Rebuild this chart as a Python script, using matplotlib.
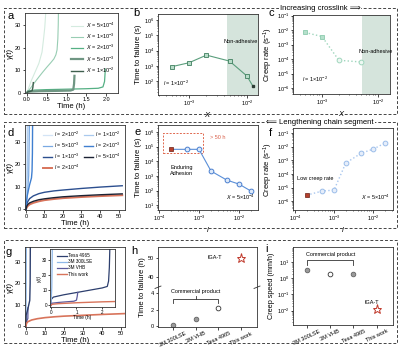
import numpy as np
import matplotlib
matplotlib.use("Agg")
import matplotlib.pyplot as plt
from matplotlib.patches import Rectangle

plt.rcParams['font.family'] = ['Liberation Sans', 'DejaVu Sans']
plt.rcParams['mathtext.fontset'] = 'custom'
plt.rcParams['mathtext.rm'] = 'Liberation Sans'
plt.rcParams['mathtext.it'] = 'Liberation Sans:italic'
plt.rcParams['mathtext.bf'] = 'Liberation Sans:bold'

# ---------------- data ----------------
# a: strain vs time for different crosslink X
a_t_5e4 = [0, 0.05, 0.1, 0.2, 0.3, 0.38, 0.42, 0.45, 0.465, 0.475]
a_g_5e4 = [0, 2.5, 5, 9, 13, 18, 24, 29, 33, 36]
a_t_1e3 = [0, 0.05, 0.1, 0.2, 0.3, 0.4, 0.5, 0.6, 0.68, 0.73, 0.76, 0.78, 0.79, 0.795]
a_g_1e3 = [0, 1.2, 2.3, 4.7, 7, 9.2, 11.3, 13.3, 15, 16.8, 19, 24, 30, 36]
a_t_2e3 = [0, 0.02, 0.2, 0.5, 1.0, 1.5, 1.8, 1.92, 1.96, 1.98]
a_g_2e3 = [0, 0.8, 1.2, 1.4, 1.6, 1.8, 2.0, 2.6, 5, 10.5]
a_t_5e3 = [0, 0.02, 0.3, 0.6, 0.9, 1.1, 1.17, 1.19, 1.2]
a_g_5e3 = [0, 0.5, 0.7, 0.8, 0.9, 1.0, 1.4, 4, 7.5]
a_t_1e2 = [0, 0.02, 0.08, 0.13, 0.15, 0.16]
a_g_1e2 = [0, 0.4, 0.6, 0.9, 2.5, 4.5]
a_labels = [r"$X$ = 5×10$^{-4}$", r"$X$ = 1×10$^{-3}$", r"$X$ = 2×10$^{-3}$",
            r"$X$ = 5×10$^{-3}$", r"$X$ = 1×10$^{-2}$"]

# b, c: vs crosslink X
b_X = [5e-4, 1e-3, 2e-3, 5e-3, 1e-2]
b_ttf = [10**2.95, 10**3.21, 10**3.71, 10**3.32, 10**2.34]
b_X_extra = [1.26e-2]
b_ttf_extra = [10**1.69]
c_X = [5e-4, 1e-3, 2e-3, 5e-3]
c_rate = [10**-2.16, 10**-2.44, 10**-4.08, 10**-4.2]

# d: strain vs time for chain segment l
d_t_2e2 = [0, 0.2, 0.4, 0.5, 0.6]
d_g_2e2 = [0, 6, 14, 22, 38]
d_t_1e2 = [0, 0.3, 0.6, 0.9, 1.1]
d_g_1e2 = [0, 5, 11, 20, 38]
d_t_5e3 = [0, 0.4, 0.8, 1.5, 1.9]
d_g_5e3 = [0, 4, 7, 15, 38]
d_t_2e3 = [0, 0.3, 0.7, 1.2, 2.0, 3.0, 3.3, 3.5, 3.6]
d_g_2e3 = [0, 3.5, 6, 8, 11, 14, 17, 25, 38]
d_t_1e3 = [0, 0.5, 1, 2, 4, 7, 10, 15, 20, 30, 40, 52]
d_g_1e3 = [0, 2.5, 3.5, 4.8, 6, 7, 7.6, 8.2, 8.6, 9.3, 9.9, 10.5]
d_t_5e4 = [0, 0.5, 1, 2, 4, 7, 10, 15, 20, 30, 40, 52]
d_g_5e4 = [0, 1.5, 2.2, 2.9, 3.6, 4.3, 4.7, 5.2, 5.6, 6.1, 6.5, 6.9]
d_t_2e4 = [0, 0.5, 1, 2, 4, 7, 10, 15, 20, 30, 40, 52]
d_g_2e4 = [0, 1.0, 1.5, 2.2, 2.9, 3.6, 4.1, 4.6, 5.0, 5.5, 5.9, 6.3]

# e, f: vs chain segment l
ef_l = [5e-4, 1e-3, 2e-3, 5e-3, 1e-2, 2e-2]
e_ttf = [10**4.82, 10**4.82, 10**3.33, 10**2.71, 10**2.44, 10**1.96]
f_rate = [10**-5.26, 10**-5.19, 10**-3.2, 10**-2.47, 10**-2.18, 10**-1.74]
ref_l = [2e-4]
e_ref_ttf = [10**4.82]
f_ref_rate = [10**-5.56]

# g: comparison with commercial tapes
g_t_lse = [0, 0.05, 0.1, 0.2]
g_g_lse = [0, 5, 15, 38]
g_t_tesa = [0, 0.1, 1.0, 2.0, 2.2, 2.3]
g_g_tesa = [0, 5, 8, 12, 20, 38]
g_t_vhb = [0, 0.05, 0.5, 1.0, 1.05]
g_g_vhb = [0, 1.5, 2.5, 3.5, 8.5]
g_t_this = [0, 0.3, 1, 3, 6, 10, 15, 20, 30, 40, 52]
g_g_this = [0, 1.2, 2.0, 2.8, 3.4, 3.9, 4.3, 4.6, 5.0, 5.4, 5.8]
gi_t_lse = [0, 0.02, 0.04, 0.06]
gi_g_lse = [0, 4, 12, 38]
gi_t_tesa = [0, 0.02, 0.1, 0.5, 1.0, 1.5, 2.0, 2.2, 2.25, 2.28, 2.3]
gi_g_tesa = [0, 4, 5.5, 7, 8.5, 10, 11.5, 12.5, 16, 25, 38]
gi_t_vhb = [0, 0.05, 0.3, 0.6, 0.9, 1.0, 1.03, 1.05]
gi_g_vhb = [0, 1.5, 2, 2.4, 2.8, 3.5, 6, 8.5]
gi_t_this = [0, 0.05, 0.3, 1, 1.5, 2, 2.5]
gi_g_this = [0, 0.8, 1.2, 1.8, 2.1, 2.4, 2.6]

# h, i
products = ["3M 300LSE", "3M VHB", "Tesa 4965", "This work"]
h_ttf = [0.15, 0.9, 2.25, 50]
i_speed = [3.1, 1.8, 2.0, 0.013]

# ---------------- helpers ----------------
TICK = 4
LAB = 5.5


def style(ax):
    ax.tick_params(labelsize=TICK, length=1.8, width=0.5, pad=1, direction='out')
    ax.tick_params(which='minor', length=1.0, width=0.4)
    for s in ax.spines.values():
        s.set_linewidth(0.6)
        s.set_color('#333333')


fig = plt.figure(figsize=(4, 3.49), dpi=100)

# dashed group boxes
for (bx, by, bw, bh) in [(0.01, 0.6734, 0.9825, 0.3037),
                         (0.01, 0.3467, 0.9825, 0.3037),
                         (0.01, 0.0172, 0.9825, 0.295)]:
    fig.add_artist(Rectangle((bx, by), bw, bh, transform=fig.transFigure, fill=False,
                             ls=(0, (3, 2)), lw=0.7, color='#444444'))
fig.text(0.80, 0.977, "Increasing crosslink ⟹", fontsize=5.5, ha='center', va='center',
         bbox=dict(fc='white', ec='none', pad=0.5))
fig.text(0.80, 0.650, "⟸ Lengthening chain segment", fontsize=5.5, ha='center', va='center',
         bbox=dict(fc='white', ec='none', pad=0.5))

# panel letters
for lt, px, py in [("a", 0.02, 0.954), ("b", 0.333, 0.962), ("c", 0.672, 0.962),
                   ("d", 0.0175, 0.619), ("e", 0.336, 0.622), ("f", 0.672, 0.62),
                   ("g", 0.0125, 0.278), ("h", 0.328, 0.282), ("i", 0.664, 0.286)]:
    fig.text(px, py, lt, fontsize=8, ha='left', va='center')

# ---------------- a ----------------
ax = fig.add_axes([0.0625, 0.7335, 0.2325, 0.229])
style(ax)
a_cols = ["#d4ebdf", "#98cdb3", "#55b084", "#6f9683", "#3f5f4e"]
a_lws = [0.8, 0.8, 0.9, 1.6, 1.0]
for t, g, c, lw, lab in zip([a_t_5e4, a_t_1e3, a_t_2e3, a_t_5e3, a_t_1e2],
                            [a_g_5e4, a_g_1e3, a_g_2e3, a_g_5e3, a_g_1e2],
                            a_cols, a_lws, a_labels):
    ax.plot(t, g, color=c, lw=lw, label=lab)
ax.set_xlim(-0.05, 2.3)
ax.set_ylim(-0.1, 35.3)
ax.set_xticks([0, 0.5, 1.0, 1.5, 2.0])
ax.set_xticklabels(["0.0", "0.5", "1.0", "1.5", "2.0"])
ax.set_yticks([0, 10, 20, 30])
ax.set_xlabel("Time (h)", fontsize=LAB, labelpad=1)
ax.set_ylabel("γ(t)", fontsize=LAB, style='italic', labelpad=1)
ax.legend(fontsize=4, frameon=False, loc='upper right', bbox_to_anchor=(1.02, 0.97),
          handlelength=2.2, labelspacing=0.35, handletextpad=0.5)

# ---------------- b ----------------
ax = fig.add_axes([0.395, 0.7278, 0.25, 0.232])
style(ax)
ax.set_xscale('log')
ax.set_yscale('log')
ax.axvspan(4.6e-3, 1e-1, color='#d5e4dc', lw=0)
ax.plot(b_X + b_X_extra, b_ttf + b_ttf_extra, color='#5a9e7c', lw=0.8, zorder=2)
ax.plot(b_X, b_ttf, 's', ms=3.2, mfc='#b7dcc8', mec='#3f7f5f', mew=0.6, zorder=3)
ax.plot(b_X_extra, b_ttf_extra, 's', ms=1.6, color='#2d3d35', zorder=3)
ax.set_xlim(10**-3.534, 10**-1.81)
ax.set_ylim(10**1.1, 10**6.4)
ax.set_xlabel("$X$", fontsize=LAB, labelpad=1)
ax.set_ylabel("Time to failure (s)", fontsize=LAB, labelpad=1)
ax.text(0.83, 0.64, "Non-adhesive", transform=ax.transAxes, fontsize=4, ha='center')
ax.text(0.05, 0.11, r"$l$ = 1×10$^{-2}$", transform=ax.transAxes, fontsize=4, ha='left')

# ---------------- c ----------------
ax = fig.add_axes([0.7325, 0.7307, 0.2425, 0.2264])
style(ax)
ax.set_xscale('log')
ax.set_yscale('log')
ax.axvspan(5.1e-3, 1e-1, color='#d5e4dc', lw=0)
ax.plot(c_X, c_rate, ':', color='#9fd6bd', lw=1.0, zorder=2)
ax.plot(c_X[:2], c_rate[:2], 's', ms=3.2, mfc='#b5e0cb', mec='#8ccbae', mew=0.6, zorder=3)
ax.plot(c_X[2:], c_rate[2:], 'o', ms=3.4, mfc='#eef8f3', mec='#9fd6bd', mew=0.7, zorder=3)
ax.set_xlim(10**-3.518, 10**-1.786)
ax.set_ylim(10**-6.41, 10**-0.95)
ax.set_xlabel("$X$", fontsize=LAB, labelpad=1)
ax.set_ylabel("Creep rate (s$^{-1}$)", fontsize=LAB, labelpad=1)
ax.text(0.855, 0.52, "Non-adhesive", transform=ax.transAxes, fontsize=4, ha='center')
ax.text(0.09, 0.15, r"$l$ = 1×10$^{-2}$", transform=ax.transAxes, fontsize=4, ha='left')

# ---------------- d ----------------
ax = fig.add_axes([0.0625, 0.398, 0.25, 0.2436])
style(ax)
d_curves = [(d_t_2e2, d_g_2e2, "#d3e4f6", 0.9, r"$l$ = 2×10$^{-2}$"),
            (d_t_5e3, d_g_5e3, "#79a9e3", 0.9, r"$l$ = 5×10$^{-3}$"),
            (d_t_1e3, d_g_1e3, "#2c4f8f", 1.0, r"$l$ = 1×10$^{-3}$"),
            (d_t_2e4, d_g_2e4, "#d8745b", 1.4, r"$l$ = 2×10$^{-4}$"),
            (d_t_1e2, d_g_1e2, "#a9c9ee", 0.9, r"$l$ = 1×10$^{-2}$"),
            (d_t_2e3, d_g_2e3, "#3f7fd0", 1.0, r"$l$ = 2×10$^{-3}$"),
            (d_t_5e4, d_g_5e4, "#1b2233", 1.0, r"$l$ = 5×10$^{-4}$")]
for t, g, c, lw, lab in d_curves:
    ax.plot(t, g, color=c, lw=lw, label=lab)
ax.set_xlim(-0.5, 53.5)
ax.set_ylim(-0.3, 37.4)
ax.set_xticks([0, 10, 20, 30, 40, 50])
ax.set_yticks([0, 10, 20, 30])
ax.set_xlabel("Time (h)", fontsize=LAB, labelpad=1)
ax.set_ylabel("γ(t)", fontsize=LAB, style='italic', labelpad=1)
ax.legend(fontsize=3.8, frameon=False, ncol=2, loc='upper right', bbox_to_anchor=(1.0, 1.0),
          handlelength=1.8, labelspacing=0.3, columnspacing=0.8, handletextpad=0.4)

# ---------------- e ----------------
ax = fig.add_axes([0.395, 0.398, 0.25, 0.2436])
style(ax)
ax.set_xscale('log')
ax.set_yscale('log')
ax.plot(ref_l + ef_l, e_ref_ttf + e_ttf, '-', color='#5a8fd8', lw=0.8, zorder=2)
ax.plot(ef_l, e_ttf, 'o', ms=3.4, mfc='#dde9f9', mec='#4a7fcf', mew=0.7, zorder=3)
ax.plot(ref_l, e_ref_ttf, 's', ms=3.2, mfc='#b5402c', mec='#6b1f14', mew=0.5, zorder=3)
ax.add_patch(Rectangle((10**-3.9, 10**4.56), 10**-2.9 - 10**-3.9, 10**5.93 - 10**4.56,
                       fill=False, ls=(0, (2, 1.5)), lw=0.7, color='#e0684e'))
ax.set_xlim(10**-4.025, 10**-1.525)
ax.set_ylim(10**0.66, 10**6.48)
ax.set_xlabel("$l$", fontsize=LAB, labelpad=1)
ax.set_ylabel("Time to failure (s)", fontsize=LAB, labelpad=1)
ax.text(0.52, 0.85, "> 50 h", transform=ax.transAxes, fontsize=4, color='#d9604a', ha='left', va='center')
ax.text(0.24, 0.47, "Enduring\nAdhesion", transform=ax.transAxes, fontsize=4, ha='center',
        va='center', linespacing=1.3)
ax.text(0.97, 0.12, r"$X$ = 5×10$^{-4}$", transform=ax.transAxes, fontsize=4, ha='right')

# ---------------- f ----------------
ax = fig.add_axes([0.7325, 0.398, 0.25, 0.235])
style(ax)
ax.set_xscale('log')
ax.set_yscale('log')
ax.plot(ref_l + ef_l, f_ref_rate + f_rate, ':', color='#a9c7ef', lw=1.0, zorder=2)
ax.plot(ef_l, f_rate, 'o', ms=3.4, mfc='#e6eefb', mec='#9bbde9', mew=0.7, zorder=3)
ax.plot(ref_l, f_ref_rate, 's', ms=3.2, mfc='#b5402c', mec='#6b1f14', mew=0.5, zorder=3)
ax.set_xlim(10**-4.05, 10**-1.49)
ax.set_ylim(10**-6.66, 10**-0.63)
ax.set_xlabel("$l$", fontsize=LAB, labelpad=1)
ax.set_ylabel("Creep rate (s$^{-1}$)", fontsize=LAB, labelpad=1)
ax.text(0.04, 0.37, "Low creep rate", transform=ax.transAxes, fontsize=4, ha='left')
ax.text(0.97, 0.12, r"$X$ = 5×10$^{-4}$", transform=ax.transAxes, fontsize=4, ha='right')

# ---------------- g ----------------
col_lse, col_tesa, col_vhb, col_this = "#8fb8e8", "#2d3f6e", "#5b5a9c", "#d8745b"
ax = fig.add_axes([0.0625, 0.063, 0.25, 0.229])
style(ax)
ax.plot(g_t_lse, g_g_lse, color=col_lse, lw=0.9)
ax.plot(g_t_vhb, g_g_vhb, color=col_vhb, lw=0.9)
ax.plot(g_t_tesa, g_g_tesa, color=col_tesa, lw=1.0)
ax.plot(g_t_this, g_g_this, color=col_this, lw=1.2)
ax.set_xlim(-0.5, 52)
ax.set_ylim(-0.5, 37)
ax.set_xticks([0, 10, 20, 30, 40, 50])
ax.set_yticks([0, 10, 20, 30])
ax.set_xlabel("Time (h)", fontsize=LAB, labelpad=1)
ax.set_ylabel("γ(t)", fontsize=LAB, style='italic', labelpad=1)

axi = fig.add_axes([0.125, 0.1203, 0.1625, 0.166])
style(axi)
axi.tick_params(labelsize=3.3, length=1.2, pad=0.8)
axi.plot(gi_t_tesa, gi_g_tesa, color=col_tesa, lw=0.9, label="Tesa 4965")
axi.plot(gi_t_lse, gi_g_lse, color=col_lse, lw=0.9, label="3M 300LSE")
axi.plot(gi_t_vhb, gi_g_vhb, color=col_vhb, lw=0.9, label="3M VHB")
axi.plot(gi_t_this, gi_g_this, color=col_this, lw=1.0, label="This work")
axi.set_xlim(-0.03, 2.5)
axi.set_ylim(-1, 37)
axi.set_xticks([0, 1, 2])
axi.set_yticks([0, 10, 20, 30])
axi.set_xlabel("Time (h)", fontsize=3.5, labelpad=0.5)
axi.set_ylabel("γ(t)", fontsize=3.5, style='italic', labelpad=0.5)
axi.legend(fontsize=3.3, frameon=False, loc='upper left', bbox_to_anchor=(0.05, 1.0),
           handlelength=2.0, labelspacing=0.25, handletextpad=0.4)

# ---------------- h ----------------
LO, GAP, HI = 4.7, 1e-3, 35.0
K = 0.235


def h_fwd(y):
    y = np.asarray(y, float)
    return np.where(y <= LO, y, np.where(y < HI, LO + (y - LO) * GAP,
                                         LO + (HI - LO) * GAP + (y - HI) * K))


def h_inv(v):
    v = np.asarray(v, float)
    mid = LO + (HI - LO) * GAP
    return np.where(v <= LO, v, np.where(v < mid, LO + (v - LO) / GAP, HI + (v - mid) / K))


x_pos = np.arange(len(products))
ax = fig.add_axes([0.395, 0.063, 0.2475, 0.229])
style(ax)
ax.set_yscale('function', functions=(h_fwd, h_inv))
ax.set_ylim(-0.1, 55.5)
ax.set_xlim(-0.66, 3.7)
ax.plot(x_pos[:2], h_ttf[:2], 'o', ms=3.4, mfc='#9a9a9a', mec='#555555', mew=0.5)
ax.plot(x_pos[2:3], h_ttf[2:3], 'o', ms=3.4, mfc='white', mec='#333333', mew=0.6)
ax.plot(x_pos[3:], h_ttf[3:], '*', ms=6.5, mfc='white', mec='#c0392b', mew=0.7)
ax.set_yticks([0, 2, 4, 40, 50])
ax.yaxis.set_minor_locator(plt.NullLocator())
ax.set_xticks(x_pos)
ax.set_xticklabels(products, rotation=25, fontsize=4)
ax.set_ylabel("Time to failure (h)", fontsize=LAB, labelpad=1)
ax.text(1.85, 50, "IGA-T", fontsize=4, ha='center', va='center')
ax.plot([0, 0, 2, 2], [2.85, 3.3, 3.3, 2.85], color='#333333', lw=0.6)
ax.plot([1, 1], [3.3, 3.6], color='#333333', lw=0.6)
ax.text(1.0, 3.9, "Commercial product", fontsize=4, ha='center', va='bottom')
# break marks
yb = (h_fwd(LO) - h_fwd(-0.1)) / (h_fwd(55.5) - h_fwd(-0.1))
for xs in (0, 1):
    ax.plot([xs - 0.03, xs + 0.03], [yb - 0.015, yb + 0.015], transform=ax.transAxes,
            color='#333333', lw=0.6, clip_on=False)

# ---------------- i ----------------
ax = fig.add_axes([0.7325, 0.0688, 0.25, 0.2235])
style(ax)
ax.set_yscale('log')
ax.set_ylim(10**-2.9, 10**1.95)
ax.set_xlim(-0.6, 3.7)
ax.plot([x_pos[0], x_pos[2]], [i_speed[0], i_speed[2]], 'o', ms=3.4, mfc='#9a9a9a',
        mec='#555555', mew=0.5)
ax.plot(x_pos[1:2], i_speed[1:2], 'o', ms=3.4, mfc='white', mec='#333333', mew=0.6)
ax.plot(x_pos[3:], i_speed[3:], '*', ms=6.5, mfc='white', mec='#c0392b', mew=0.7)
ax.set_xticks(x_pos)
ax.set_xticklabels(products, rotation=25, fontsize=4)
ax.set_ylabel("Creep speed (mm/h)", fontsize=5.2, labelpad=1)
ax.text(2.8, 0.033, "IGA-T", fontsize=4, ha='center', va='center')
ax.plot([0, 0, 2, 2], [6.5, 13.4, 13.4, 6.5], color='#333333', lw=0.6)
ax.text(1.0, 22, "Commercial product", fontsize=4, ha='center', va='bottom')

fig.savefig("out.png", dpi=100)
